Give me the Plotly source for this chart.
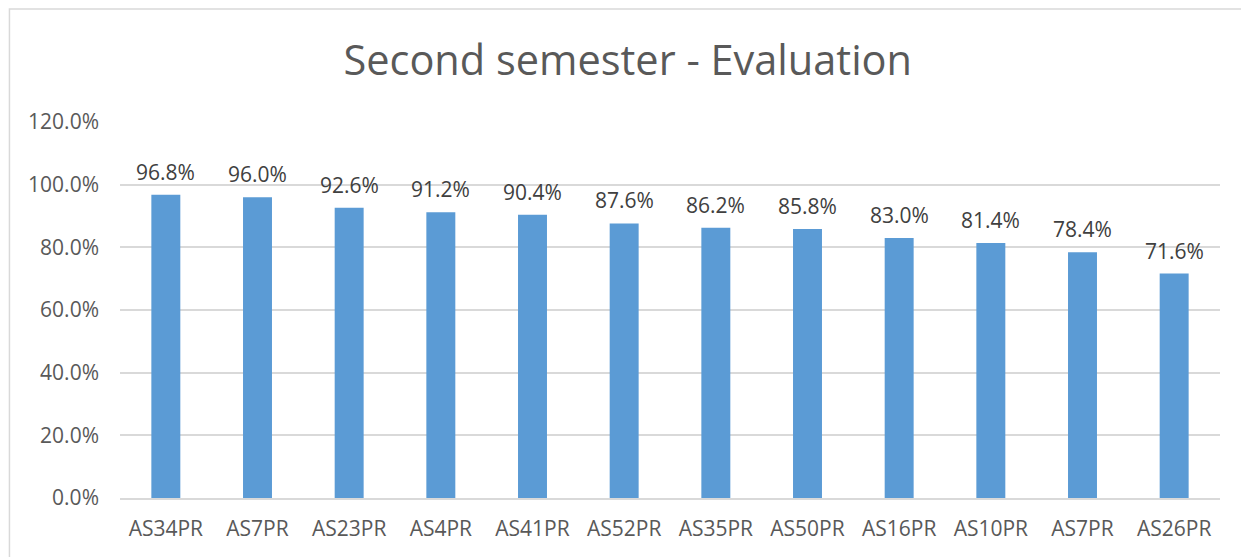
import plotly.graph_objects as go

categories = ["AS34PR", "AS7PR", "AS23PR", "AS4PR", "AS41PR", "AS52PR",
              "AS35PR", "AS50PR", "AS16PR", "AS10PR", "AS7PR", "AS26PR"]
values = [0.968, 0.960, 0.926, 0.912, 0.904, 0.876,
          0.862, 0.858, 0.830, 0.814, 0.784, 0.716]
y_ticks = [0.0, 0.2, 0.4, 0.6, 0.8, 1.0, 1.2]

positions = list(range(len(categories)))
font_family = "Open Sans, Liberation Sans, sans-serif"

fig = go.Figure(go.Bar(
    x=positions,
    y=values,
    marker=dict(color="#5b9bd5", line=dict(width=0)),
    width=0.316,
    hoverinfo="y",
))

annotations = [
    dict(x=p, y=v, xref="x", yref="y", text=f"{v*100:.1f}%",
         showarrow=False, yanchor="bottom", xanchor="center", yshift=7,
         font=dict(size=21, color="#404040", family=font_family))
    for p, v in zip(positions, values)
]

fig.update_layout(
    width=1249, height=557,
    margin=dict(l=112, r=37, t=113, b=67),
    paper_bgcolor="white", plot_bgcolor="white",
    title=dict(text="Second semester - Evaluation", x=0.4962, xanchor="center",
               y=0.9066, yanchor="middle",
               font=dict(size=41.5, color="#595959", family=font_family)),
    showlegend=False,
    annotations=annotations,
    xaxis=dict(tickmode="array", tickvals=positions, ticktext=categories,
               range=[-0.5, len(categories) - 0.5],
               showgrid=False, zeroline=False, showline=True,
               linecolor="#d9d9d9", linewidth=2, ticks="",
               ticklabelstandoff=11,
               tickfont=dict(size=21, color="#595959", family=font_family)),
    yaxis=dict(range=[0, 1.203], tickvals=y_ticks, tickformat=".1%",
               showgrid=True, gridcolor="#d9d9d9", gridwidth=2,
               zeroline=False, showline=False, ticks="",
               ticklabelstandoff=20,
               tickfont=dict(size=21, color="#595959", family=font_family)),
    shapes=[dict(type="rect", xref="paper", yref="paper",
                 x0=-0.1005, x1=1.0255, y0=-0.3, y1=1.297,
                 line=dict(color="#d9d9d9", width=1.5), fillcolor="rgba(0,0,0,0)",
                 layer="below")],
)

fig.write_html("out.html")
